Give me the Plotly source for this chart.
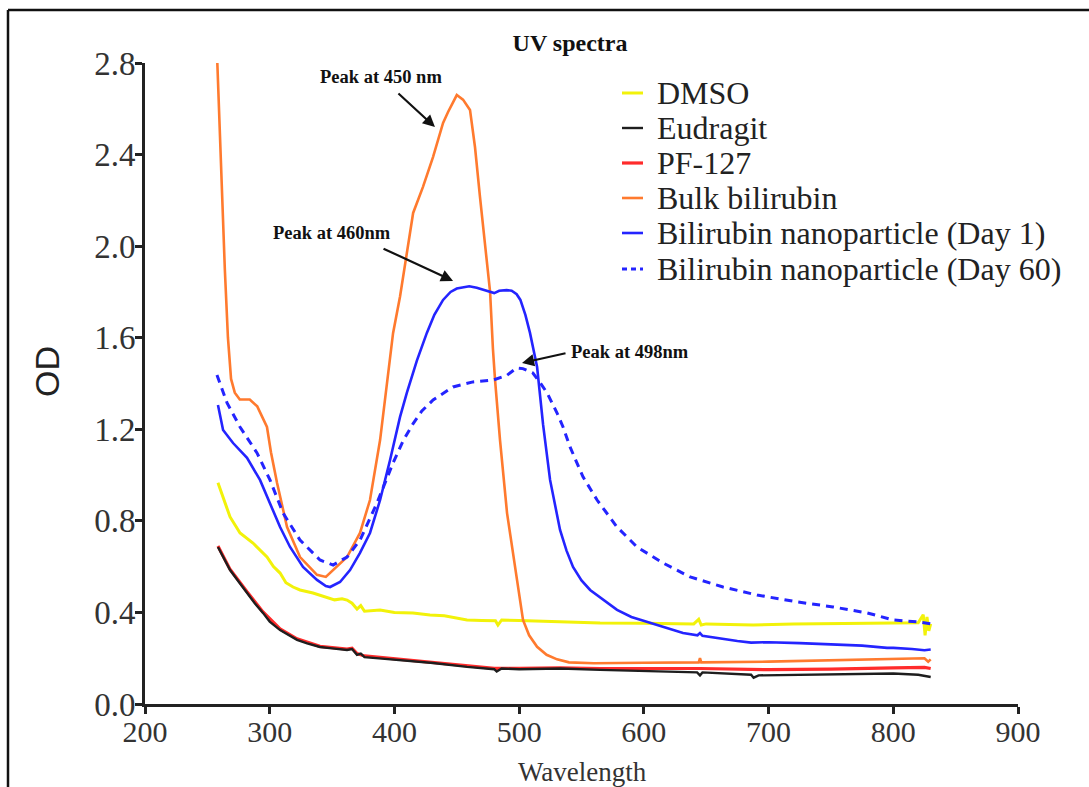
import plotly.graph_objects as go

# ---- spectra (wavelength in nm, optical density) ----
wl_dmso = [258.5, 262.6, 268.2, 276.2, 286.6, 297.8, 303, 308.3, 313, 318.7, 324.3, 334.7, 340, 346, 352, 358,
           362, 366, 370, 373, 376, 388.5, 400, 414.9, 428.5, 440, 458.2, 470, 481, 483, 486, 500, 530, 564.9,
           600, 640, 644, 646, 650, 687.6, 720, 760, 800, 820, 824, 825.5, 827, 828.5, 830]
od_dmso = [0.966, 0.904, 0.817, 0.747, 0.703, 0.642, 0.600, 0.572, 0.530, 0.511, 0.498, 0.485, 0.475, 0.467, 0.455,
           0.460, 0.454, 0.440, 0.415, 0.430, 0.405, 0.411, 0.400, 0.398, 0.389, 0.385, 0.367, 0.365, 0.364, 0.345,
           0.367, 0.365, 0.360, 0.354, 0.353, 0.350, 0.370, 0.345, 0.350, 0.345, 0.350, 0.352, 0.355, 0.355, 0.390,
           0.300, 0.380, 0.320, 0.350]

wl_eudragit = [258.5, 262, 268.2, 275, 281.8, 288, 294.6, 300, 308.3, 315, 321.9, 330, 340.3, 350, 362, 366, 370,
               373, 376, 390, 404.5, 431, 458.2, 475, 480, 482, 486, 500, 533, 564.9, 600, 642.7, 645, 647, 686,
               688, 692, 720, 760, 800, 820, 826, 830]
od_eudragit = [0.686, 0.650, 0.585, 0.535, 0.485, 0.440, 0.398, 0.360, 0.323, 0.300, 0.280, 0.265, 0.249, 0.243,
               0.236, 0.240, 0.215, 0.220, 0.205, 0.198, 0.192, 0.179, 0.162, 0.155, 0.152, 0.142, 0.155, 0.152,
               0.155, 0.149, 0.145, 0.138, 0.125, 0.138, 0.128, 0.115, 0.125, 0.127, 0.130, 0.133, 0.128, 0.120,
               0.118]

wl_pf127 = [258.5, 268, 281.8, 294.6, 308.3, 321.9, 340.3, 362, 366, 370, 376, 404.5, 431, 458.2, 480, 500, 533,
            564.9, 600, 645, 700, 750, 800, 825, 830]
od_pf127 = [0.690, 0.590, 0.490, 0.402, 0.328, 0.285, 0.252, 0.240, 0.244, 0.220, 0.210, 0.195, 0.182, 0.166,
            0.156, 0.156, 0.158, 0.155, 0.156, 0.155, 0.150, 0.152, 0.158, 0.160, 0.155]

wl_bulk = [258, 260, 261.7, 264, 266.5, 269, 272, 276, 284, 290, 297.8, 301, 305.9, 313.9, 324.3, 337.9, 345,
           348.4, 362, 372.4, 380.4, 388.5, 392.5, 398.9, 404.5, 410, 415, 422.9, 431, 439, 443, 450, 455, 460.6,
           464.6, 468.6, 472.7, 476.7, 479, 480.7, 484.7, 490.3, 498.3, 503.1, 508, 514.4, 522, 530.4, 540, 560,
           600, 644, 645, 646, 700, 750, 800, 825, 828, 830]
od_bulk = [2.80, 2.50, 2.20, 1.90, 1.60, 1.42, 1.36, 1.33, 1.33, 1.30, 1.21, 1.10, 0.965, 0.773, 0.642, 0.564,
           0.555, 0.572, 0.642, 0.747, 0.891, 1.153, 1.33, 1.62, 1.78, 1.98, 2.145, 2.259, 2.39, 2.538, 2.586,
           2.66, 2.64, 2.595, 2.433, 2.215, 1.997, 1.80, 1.55, 1.415, 1.15, 0.834, 0.542, 0.367, 0.300, 0.250,
           0.215, 0.195, 0.182, 0.178, 0.180, 0.182, 0.200, 0.182, 0.185, 0.190, 0.195, 0.200, 0.185, 0.195]

wl_np_day1 = [258.5, 262.6, 270.6, 281.8, 292.2, 300.2, 308.3, 316.3, 326.7, 337.9, 345, 348.4, 352, 356.4, 364.4,
              372.4, 380.4, 388.5, 396.5, 404.5, 410, 418, 426, 432, 439, 445, 450, 455, 460, 466, 471, 476, 480,
              484, 490, 494, 498, 501, 505, 508.7, 514.4, 519.2, 524.8, 532.8, 538, 543.2, 550, 556.9, 565, 578.5,
              590, 605, 620, 631.4, 643, 645, 647, 658.7, 675, 686, 700, 725, 750, 775, 795, 800, 815, 825, 830]
od_np_day1 = [1.306, 1.197, 1.140, 1.075, 0.979, 0.878, 0.773, 0.686, 0.599, 0.542, 0.515, 0.511, 0.520, 0.533,
              0.585, 0.660, 0.747, 0.891, 1.066, 1.254, 1.360, 1.500, 1.621, 1.700, 1.765, 1.800, 1.815, 1.820,
              1.825, 1.818, 1.809, 1.800, 1.795, 1.805, 1.808, 1.805, 1.790, 1.765, 1.700, 1.621, 1.472, 1.220,
              0.979, 0.760, 0.670, 0.599, 0.540, 0.498, 0.465, 0.411, 0.380, 0.354, 0.330, 0.310, 0.300, 0.310,
              0.298, 0.288, 0.275, 0.268, 0.270, 0.266, 0.260, 0.255, 0.245, 0.245, 0.240, 0.235, 0.238]

wl_np_day60 = [257.7, 265.8, 276.2, 289.8, 300.2, 310.7, 324.3, 340.3, 350.8, 362, 372.4, 386, 398.9, 407, 415,
               422, 431, 447, 463, 479, 490, 498, 503, 511, 516, 522.4, 530.4, 535.2, 540.8, 551.2, 562.5, 578.5,
               594.5, 615.4, 637.1, 663.5, 690.8, 722.9, 751.7, 779, 800, 821.5, 830]
od_np_day60 = [1.437, 1.315, 1.210, 1.097, 0.979, 0.834, 0.716, 0.629, 0.607, 0.642, 0.716, 0.878, 1.053, 1.150,
               1.225, 1.280, 1.328, 1.385, 1.407, 1.415, 1.435, 1.468, 1.465, 1.446, 1.410, 1.359, 1.271, 1.210,
               1.123, 0.992, 0.891, 0.773, 0.686, 0.616, 0.555, 0.511, 0.476, 0.446, 0.424, 0.398, 0.367, 0.358,
               0.350]

# peak call-outs: label, arrow head (data), label centre (data), arrow tail offset (px)
peak_labels = ["Peak at 450 nm", "Peak at 460nm", "Peak at 498nm"]
peak_head_x = [432.5, 447.0, 502.3]
peak_head_y = [2.52, 1.848, 1.49]
peak_text_x = [389.2, 350.0, 588.9]
peak_text_y = [2.739, 2.057, 1.538]
peak_tail_dx = [-38, -71, 45]
peak_tail_dy = [-35, -33, -10]

x_ticks = [200, 300, 400, 500, 600, 700, 800, 900]
y_ticks = [0.0, 0.4, 0.8, 1.2, 1.6, 2.0, 2.4, 2.8]

SERIF = "Liberation Serif, Times New Roman, serif"
INK = "#222222"

# plot-area geometry in pixels (used to place the key and frame in paper units)
W, H = 1089, 787
L, R, T, B = 145, 71, 63, 83
PW, PH = W - L - R, H - T - B


def px_to_paper_x(px):
    return (px - L) / PW


def px_to_paper_y(py):
    return (H - B - py) / PH


fig = go.Figure()

series = [
    ("DMSO", wl_dmso, od_dmso, "#F2F20A", 3.0, "solid"),
    ("Eudragit", wl_eudragit, od_eudragit, "#1E1E1E", 2.4, "solid"),
    ("PF-127", wl_pf127, od_pf127, "#FF2B2B", 3.2, "solid"),
    ("Bulk bilirubin", wl_bulk, od_bulk, "#FF7A2E", 2.6, "solid"),
    ("Bilirubin nanoparticle (Day 1)", wl_np_day1, od_np_day1, "#2424FF", 2.6, "solid"),
    ("Bilirubin nanoparticle (Day 60)", wl_np_day60, od_np_day60, "#2424FF", 3.0, "8px,6px"),
]

# red drawn under black so the two overlapping baselines both stay visible
draw_order = [0, 2, 1, 3, 4, 5]
for idx in draw_order:
    name, xs, ys, color, width, dash = series[idx]
    fig.add_trace(go.Scatter(x=xs, y=ys, name=name, mode="lines",
                             line=dict(color=color, width=width, dash=dash), showlegend=False))

annotations = []
shapes = []

for lab, hx, hy, tx, ty, dx, dy in zip(peak_labels, peak_head_x, peak_head_y,
                                       peak_text_x, peak_text_y, peak_tail_dx, peak_tail_dy):
    annotations.append(dict(x=hx, y=hy, xref="x", yref="y", text="", showarrow=True,
                            ax=dx, ay=dy, arrowhead=2, arrowsize=1.1, arrowwidth=2.2,
                            arrowcolor="#111111"))
    annotations.append(dict(x=tx, y=ty, xref="x", yref="y", text="<b>%s</b>" % lab,
                            showarrow=False, xanchor="center", yanchor="middle",
                            font=dict(family=SERIF, size=18.5, color="#111111")))

# key: short line sample followed by the series name, one row per series
key_rows_px = [93, 128, 163, 198, 233, 269]
key_dash = {"solid": "solid", "8px,6px": "5px,4px"}
for (name, _xs, _ys, color, width, dash), ry in zip(series, key_rows_px):
    yp = px_to_paper_y(ry)
    shapes.append(dict(type="line", xref="paper", yref="paper",
                       x0=px_to_paper_x(622), x1=px_to_paper_x(643), y0=yp, y1=yp,
                       line=dict(color=color, width=width, dash=key_dash[dash])))
    annotations.append(dict(x=px_to_paper_x(655), y=yp, xref="paper", yref="paper", text=name,
                            showarrow=False, xanchor="left", yanchor="middle",
                            font=dict(family=SERIF, size=32, color=INK)))

# axis titles
annotations.append(dict(x=px_to_paper_x(47), y=px_to_paper_y(372), xref="paper", yref="paper", text="OD",
                        textangle=-90, showarrow=False, xanchor="center", yanchor="middle",
                        font=dict(family="Liberation Sans, Arial, sans-serif", size=34, color=INK)))
annotations.append(dict(x=px_to_paper_x(582), y=px_to_paper_y(772), xref="paper", yref="paper",
                        text="Wavelength", showarrow=False, xanchor="center", yanchor="middle",
                        font=dict(family=SERIF, size=27, color="#333333")))

# frame around the figure (left and top edges)
fx, fy = px_to_paper_x(8), px_to_paper_y(10)
shapes.append(dict(type="line", xref="paper", yref="paper", x0=fx, x1=fx, y0=-0.2, y1=fy,
                   line=dict(color="#111111", width=2.5)))
shapes.append(dict(type="line", xref="paper", yref="paper", x0=fx, x1=1.1, y0=fy, y1=fy,
                   line=dict(color="#111111", width=2.5)))

fig.update_layout(
    width=W, height=H,
    margin=dict(l=L, r=R, t=T, b=B),
    paper_bgcolor="white", plot_bgcolor="white",
    title=dict(text="<b>UV spectra</b>", x=px_to_paper_x(570), xref="paper", y=1 - 43 / H, yref="container",
               xanchor="center", yanchor="middle",
               font=dict(family=SERIF, size=24, color="#111111")),
    showlegend=False,
    annotations=annotations,
    shapes=shapes,
    xaxis=dict(range=[200, 900], tickvals=x_ticks, ticktext=[str(v) for v in x_ticks],
               showgrid=False, zeroline=False, showline=True, linecolor=INK, linewidth=2.6,
               ticks="outside", ticklen=7, tickwidth=2.6, tickcolor=INK, ticklabelstandoff=-8,
               tickfont=dict(family=SERIF, size=30, color="#333333")),
    yaxis=dict(range=[0, 2.8], tickvals=y_ticks, ticktext=["%.1f" % v for v in y_ticks],
               showgrid=False, zeroline=False, showline=True, linecolor=INK, linewidth=2.6,
               ticks="outside", ticklen=7, tickwidth=2.6, tickcolor=INK, ticklabelstandoff=-7,
               tickfont=dict(family=SERIF, size=33, color="#333333")),
)

fig.write_html("out.html")
